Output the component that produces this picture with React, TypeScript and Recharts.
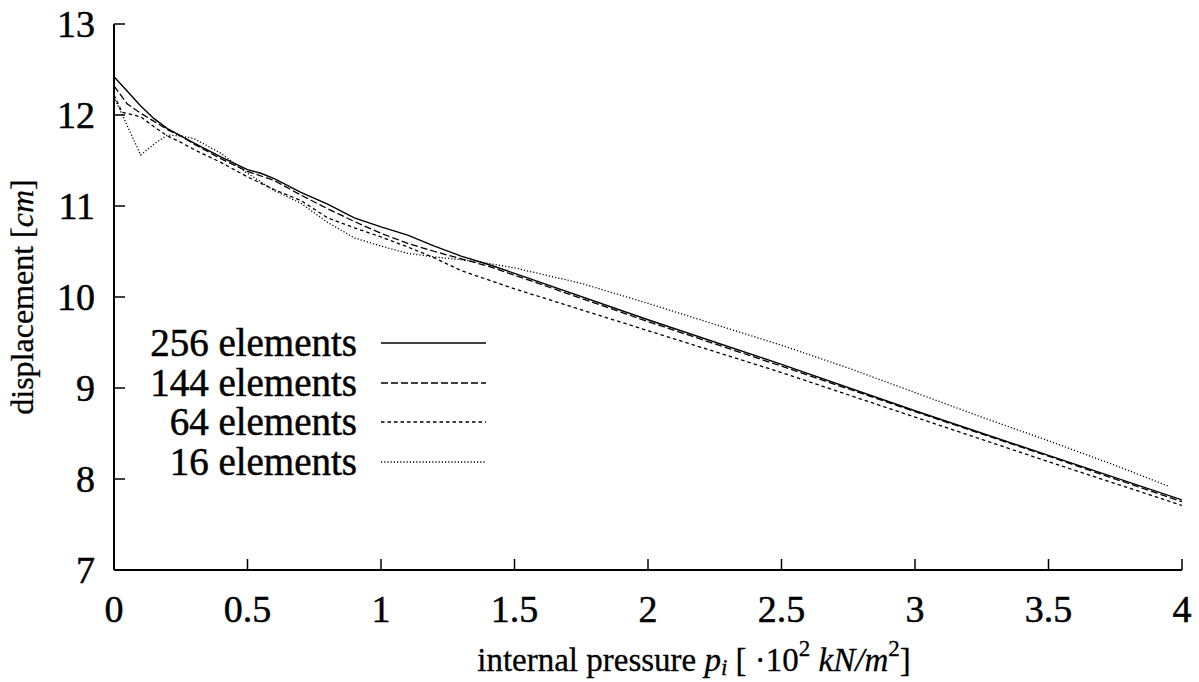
import { LineChart, Line, XAxis, YAxis, Legend } from 'recharts';

// pressure [·10² kN/m²] and displacement [cm] for each mesh
const p256 = [0, 0.05, 0.1, 0.15, 0.2, 0.25, 0.3, 0.4, 0.5, 0.55, 0.6, 0.7, 0.8, 0.9, 1.0, 1.1, 1.2, 1.3, 1.4, 1.5, 2.0, 2.5, 3.0, 3.5, 4.0];
const d256 = [12.42, 12.26, 12.1, 11.96, 11.85, 11.77, 11.69, 11.54, 11.4, 11.36, 11.3, 11.15, 11.02, 10.87, 10.77, 10.68, 10.56, 10.45, 10.36, 10.26, 9.75, 9.26, 8.75, 8.26, 7.77];

const p144 = [0, 0.05, 0.1, 0.15, 0.2, 0.25, 0.3, 0.4, 0.5, 0.6, 0.7, 0.8, 0.9, 1.0, 1.1, 1.2, 1.3, 1.4, 1.5, 2.0, 2.5, 3.0, 3.5, 4.0];
const d144 = [12.32, 12.12, 12.02, 11.93, 11.84, 11.77, 11.68, 11.52, 11.38, 11.28, 11.12, 10.97, 10.83, 10.7, 10.59, 10.5, 10.42, 10.34, 10.24, 9.73, 9.24, 8.74, 8.25, 7.75];

const p64 = [0, 0.03, 0.1, 0.15, 0.2, 0.25, 0.3, 0.4, 0.5, 0.6, 0.7, 0.8, 0.9, 1.0, 1.1, 1.2, 1.3, 1.4, 1.5, 2.0, 2.5, 3.0, 3.5, 4.0];
const d64 = [12.22, 12.03, 11.98, 11.87, 11.77, 11.7, 11.62, 11.48, 11.32, 11.18, 11.06, 10.87, 10.76, 10.66, 10.55, 10.43, 10.29, 10.19, 10.09, 9.63, 9.17, 8.68, 8.19, 7.71];

const p16 = [0, 0.05, 0.1, 0.15, 0.2, 0.25, 0.3, 0.4, 0.5, 0.6, 0.7, 0.8, 0.9, 1.0, 1.1, 1.2, 1.3, 1.4, 1.5, 1.75, 2.0, 2.25, 2.5, 2.75, 3.0, 3.25, 3.5, 3.75, 3.95];
const d16 = [12.2, 11.88, 11.56, 11.68, 11.78, 11.77, 11.74, 11.58, 11.36, 11.17, 11.03, 10.82, 10.65, 10.56, 10.48, 10.44, 10.41, 10.37, 10.32, 10.15, 9.93, 9.7, 9.47, 9.22, 8.95, 8.68, 8.42, 8.15, 7.92];

const xTicks = [0, 0.5, 1, 1.5, 2, 2.5, 3, 3.5, 4];
const yTicks = [7, 8, 9, 10, 11, 12, 13];

const FONT = '"Liberation Serif", "Times New Roman", serif';
const TICK_LEN = 11;
const INK = 0.5; // thickens the thin serif glyphs a little

const zip = (xs: number[], ys: number[]) => xs.map((x, i) => ({ x, y: ys[i] }));

const series = [
  { name: '256 elements', data: zip(p256, d256), dash: undefined, width: 1.4 },
  { name: '144 elements', data: zip(p144, d144), dash: '7 3', width: 1.3 },
  { name: '64 elements', data: zip(p64, d64), dash: '3.5 3', width: 1.3 },
  { name: '16 elements', data: zip(p16, d16), dash: '1.2 2', width: 1.3 },
];

const BottomTick = ({ x, y, payload }: any) => (
  <g>
    <line x1={x} y1={y} x2={x} y2={y - TICK_LEN} stroke="#000" strokeWidth={1.5} />
    <text x={x} y={y + 39} textAnchor="middle" dominantBaseline="central" fontFamily={FONT} fontSize={38} fill="#000" stroke="#000" strokeWidth={INK}>
      {payload.value}
    </text>
  </g>
);

const TopTick = ({ x, y }: any) => (
  <line x1={x} y1={y} x2={x} y2={y + TICK_LEN} stroke="#000" strokeWidth={1.5} />
);

const LeftTick = ({ x, y, payload }: any) => (
  <g>
    <line x1={x} y1={y} x2={x + TICK_LEN} y2={y} stroke="#000" strokeWidth={1.5} />
    <text x={x - 19} y={y} textAnchor="end" dominantBaseline="central" fontFamily={FONT} fontSize={38} fill="#000" stroke="#000" strokeWidth={INK}>
      {payload.value}
    </text>
  </g>
);

const RightTick = ({ x, y }: any) => (
  <line x1={x} y1={y} x2={x - TICK_LEN} y2={y} stroke="#000" strokeWidth={1.5} />
);

const KeyBox = () => (
  <div style={{ fontFamily: FONT, fontSize: 39, color: '#000', WebkitTextStroke: `${INK}px #000` }}>
    {series.map((s) => (
      <div key={s.name} style={{ display: 'flex', alignItems: 'center', height: 39.7 }}>
        <span style={{ width: 357, textAlign: 'right', whiteSpace: 'nowrap', lineHeight: '39.7px' }}>{s.name}</span>
        <svg width={130} height={10} style={{ display: 'block' }}>
          <line x1={24} y1={5} x2={129} y2={5} stroke="#000" strokeWidth={s.width} strokeDasharray={s.dash} />
        </svg>
      </div>
    ))}
  </div>
);

export default function App() {
  return (
    <div style={{ position: 'absolute', left: 0, top: 0, width: 1199, height: 682, background: '#fff' }}>
      <LineChart width={1199} height={682} margin={{ top: 24, right: 17, bottom: 0, left: 14 }}>
        <XAxis
          xAxisId="bottom"
          type="number"
          dataKey="x"
          domain={[0, 4]}
          ticks={xTicks}
          interval={0}
          height={112}
          tickSize={0}
          tickMargin={0}
          tickLine={false}
          axisLine={{ stroke: '#000', strokeWidth: 2 }}
          tick={<BottomTick />}
          allowDataOverflow
        />
        <XAxis
          xAxisId="top"
          orientation="top"
          type="number"
          dataKey="x"
          domain={[0, 4]}
          ticks={xTicks}
          interval={0}
          height={0}
          tickSize={0}
          tickMargin={0}
          tickLine={false}
          axisLine={{ stroke: '#000', strokeWidth: 2 }}
          tick={<TopTick />}
          allowDataOverflow
        />
        <YAxis
          yAxisId="left"
          type="number"
          domain={[7, 13]}
          ticks={yTicks}
          interval={0}
          width={100}
          tickSize={0}
          tickMargin={0}
          tickLine={false}
          axisLine={{ stroke: '#000', strokeWidth: 2 }}
          tick={<LeftTick />}
          allowDataOverflow
        />
        <YAxis
          yAxisId="right"
          orientation="right"
          type="number"
          domain={[7, 13]}
          ticks={yTicks}
          interval={0}
          width={0}
          tickSize={0}
          tickMargin={0}
          tickLine={false}
          axisLine={{ stroke: '#000', strokeWidth: 2 }}
          tick={<RightTick />}
          allowDataOverflow
        />
        {series.map((s) => (
          <Line
            key={s.name}
            xAxisId="bottom"
            yAxisId="left"
            data={s.data}
            dataKey="y"
            name={s.name}
            type="linear"
            stroke="#000"
            strokeWidth={s.width}
            strokeDasharray={s.dash}
            dot={false}
            activeDot={false}
            isAnimationActive={false}
          />
        ))}
        <Legend
          layout="vertical"
          align="center"
          verticalAlign="middle"
          content={<KeyBox />}
          wrapperStyle={{ position: 'absolute', left: 0, top: 323, width: 500 }}
        />
        <text
          x={694}
          y={660}
          textAnchor="middle"
          dominantBaseline="central"
          fontFamily={FONT}
          fontSize={33}
          fill="#000"
          stroke="#000"
          strokeWidth={0.3}
        >
          internal pressure <tspan fontStyle="italic">p</tspan>
          <tspan fontStyle="italic" fontSize={23} dy={7}>i</tspan>
          <tspan dy={-7}> [ ·10</tspan>
          <tspan fontSize={23} dy={-12}>2</tspan>
          <tspan dy={12} fontStyle="italic"> kN/m</tspan>
          <tspan fontSize={23} dy={-12}>2</tspan>
          <tspan dy={12}>]</tspan>
        </text>
        <text
          x={22}
          y={297}
          transform="rotate(-90 22 297)"
          textAnchor="middle"
          dominantBaseline="central"
          fontFamily={FONT}
          fontSize={32}
          fill="#000"
          stroke="#000"
          strokeWidth={0.3}
        >
          displacement [<tspan fontStyle="italic">cm</tspan>]
        </text>
      </LineChart>
    </div>
  );
}
